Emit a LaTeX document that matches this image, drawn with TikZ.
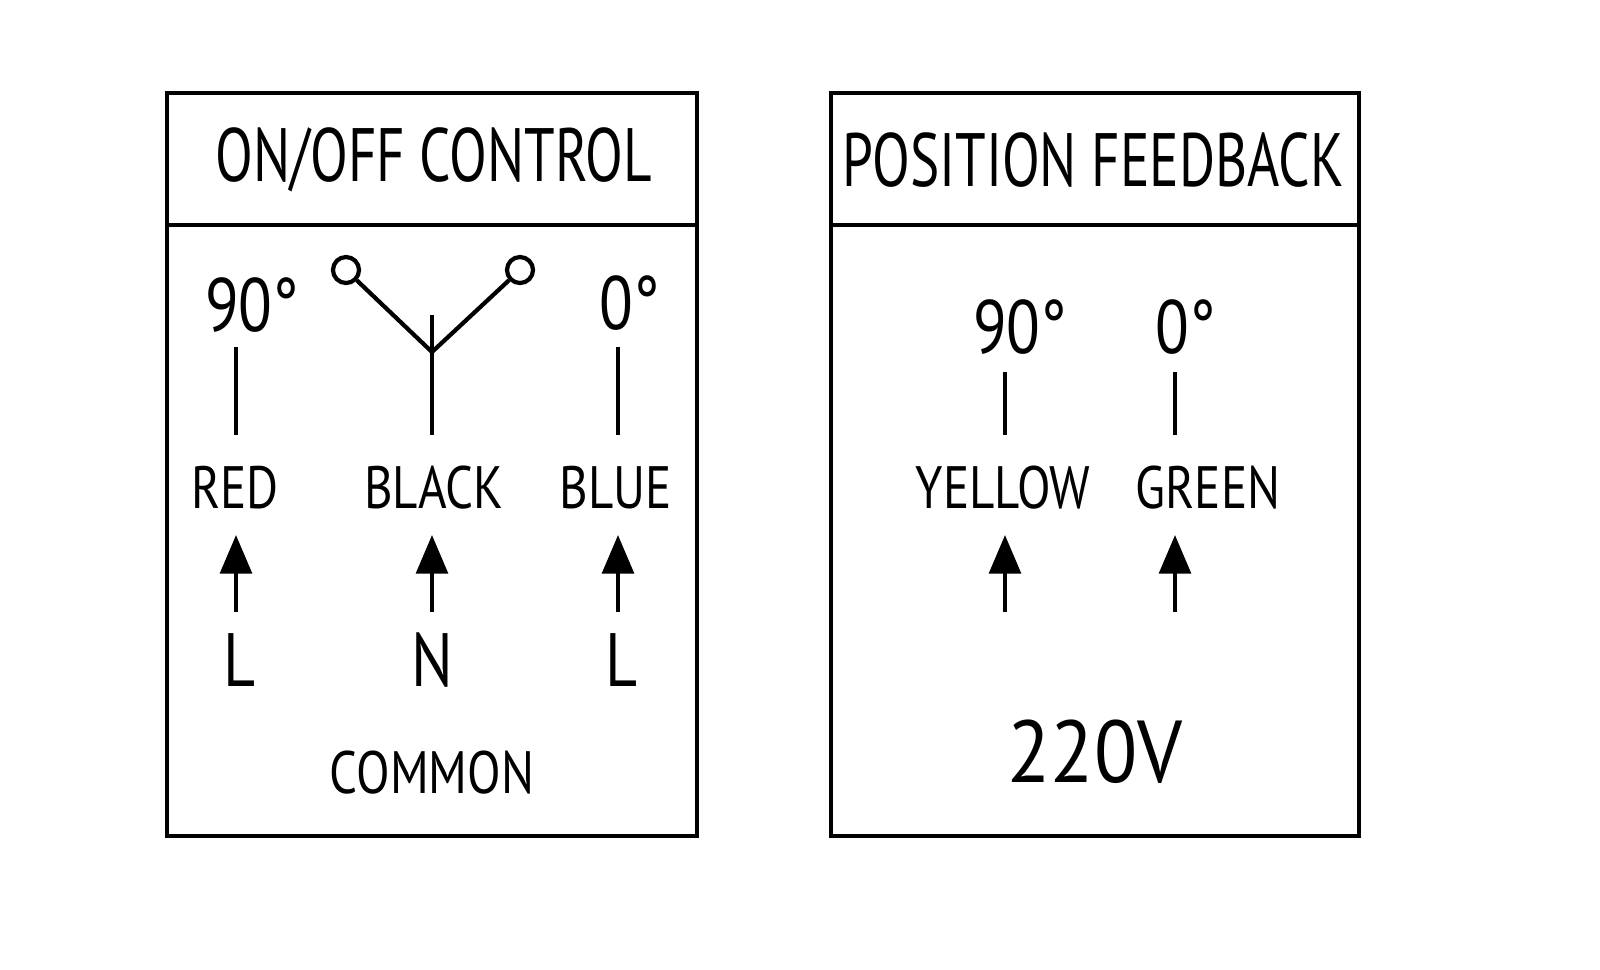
\documentclass[tikz,border=0pt]{standalone}
\usepackage{fontspec}
\setmainfont{PT Sans}
\usetikzlibrary{arrows.meta}

\begin{document}
\begin{tikzpicture}[x=0.01cm,y=-0.01cm,line width=1.2pt]
        \useasboundingbox (0,0) rectangle (1600,969);
        \tikzset{txt/.style={inner sep=0pt,anchor=center,xscale=0.82},
                 big/.style={txt,font=\fontsize{21.5}{22}\selectfont},
                 head/.style={big,xscale=0.89},
                 mid/.style={txt,font=\fontsize{17}{17}\selectfont},
                 feed/.style={-{Triangle[length=11pt,width=9pt]},line width=1.2pt}}
        % boxes
        \draw (167,93) rectangle (697,836);
        \draw (167,225) -- (697,225);
        \draw (831,93) rectangle (1359,836);
        \draw (831,225) -- (1359,225);
        \node[head] (t1) at (434,160) {ON/OFF CONTROL};
        \node[head] (t2) at (1093,160) {POSITION FEEDBACK};

        % left box
        \node[big] (a90) at (252,305) {90°};
        \node[big] (a0) at (630,303) {0°};
        \node[mid] (red) at (235,488) {RED};
        \node[mid] (black) at (434,488) {BLACK};
        \node[mid] (blue) at (616,488) {BLUE};
        \node[big] (l1) at (240,660) {L};
        \node[big] (n) at (432,660) {N};
        \node[big] (l2) at (622,660) {L};
        \node[mid] (common) at (432,773) {COMMON};
        \coordinate (j) at (432,352);
        \node[circle,draw,minimum size=7.4pt,inner sep=0pt] (c1) at (346,270) {};
        \node[circle,draw,minimum size=7.4pt,inner sep=0pt] (c2) at (520,270) {};
        \draw (c1) -- (j);
        \draw (c2) -- (j);
        \draw (432,315) -- (432,435);
        \draw (236,347) -- (236,435);
        \draw (618,347) -- (618,435);
        \draw[feed] (236,612) -- (236,535);
        \draw[feed] (432,612) -- (432,535);
        \draw[feed] (618,612) -- (618,535);

        % right box
        \node[big] (b90) at (1020,327) {90°};
        \node[big] (b0) at (1186,327) {0°};
        \node[mid] (yellow) at (1003,488) {YELLOW};
        \node[mid] (green) at (1208,488) {GREEN};
        \draw (1005,372) -- (1005,435);
        \draw (1175,372) -- (1175,435);
        \draw[feed] (1005,612) -- (1005,535);
        \draw[feed] (1175,612) -- (1175,535);
        \node[txt,xscale=1.1,font=\fontsize{25}{25}\selectfont] (volt) at (1095,752) {220V};
\end{tikzpicture}
\end{document}
